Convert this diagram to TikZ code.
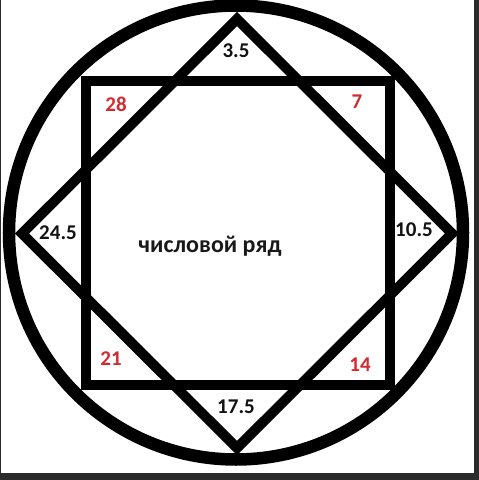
\documentclass[tikz,border=0pt]{standalone}
\usepackage{fontspec}
\setmainfont{Carlito}
\begin{document}
\begin{tikzpicture}[x=1pt,y=-1pt,
  shape line/.style={line width=10pt, line join=miter, draw=black},
  ring/.style={line width=12.5pt, draw=black},
  numlabel/.style={font=\fontsize{21}{23}\selectfont\bfseries, text=black!93, inner sep=0pt},
  rednum/.style={numlabel, text=redlab},
  edge strip/.style={fill=framegray, draw=none}]
\definecolor{redlab}{HTML}{D42A2F}
\definecolor{framegray}{HTML}{2B2B2B}
\useasboundingbox (0,0) rectangle (479,480);
\fill[white] (0,0) rectangle (479,480);
% frame strips
\fill[edge strip] (474,0) rectangle (479,480);
\fill[edge strip] (0,473) rectangle (479,480);
\fill[edge strip] (0,0) rectangle (1,473);
% circle
\draw[ring] (236,232.5) circle[radius=227];
% square
\draw[shape line] (85.5,81) rectangle (390,385);
% diamond
\coordinate (dt) at (237,19);
\coordinate (dr) at (452,233.5);
\coordinate (db) at (237,448);
\coordinate (dl) at (22,233.5);
\draw[shape line] (dt) -- (dr) -- (db) -- (dl) -- cycle;
% labels
\node[numlabel] (l35) at (236,51) {3.5};
\node[rednum] (l28) at (116,104) {28};
\node[rednum] (l7) at (357,102) {7};
\node[numlabel] (l245) at (58,233) {24.5};
\node[numlabel] (l105) at (414,230) {10.5};
\node[rednum] (l21) at (111,359) {21};
\node[rednum] (l14) at (360,365) {14};
\node[numlabel] (l175) at (236,407) {17.5};
\node[font=\fontsize{24}{27}\selectfont\bfseries, text=black!90, inner sep=0pt, anchor=base] (title) at (210,252) {числовой ряд};
\end{tikzpicture}
\end{document}
